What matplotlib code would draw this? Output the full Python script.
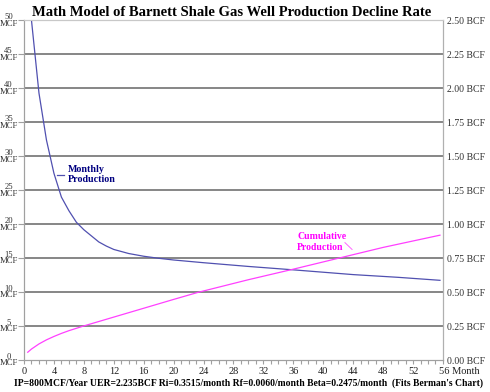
#Barnett shale decline model chart, monthly rate and cumulative production

import matplotlib
matplotlib.use('Agg')

import matplotlib.pyplot as plt
from matplotlib.ticker import MultipleLocator

# monthly production (MCF scale on left axis)
monthlyMonths = [1, 2, 3, 4, 5, 6, 7, 8, 9, 10, 11, 12, 13, 14, 16, 18, 20, 24, 30, 36, 44, 50, 55.6]
monthlyValues = [50.0, 39.3, 32.4, 27.5, 24.0, 22.0, 20.3, 19.2, 18.3, 17.4, 16.8, 16.3, 16.0, 15.7,
                 15.3, 15.0, 14.75, 14.35, 13.8, 13.3, 12.6, 12.2, 11.76]

# cumulative production (BCF scale on right axis)
cumMonths = [0.5, 1, 2, 3, 4, 5, 6, 8, 10, 12, 14, 16, 20, 23.3, 30, 36, 42, 48, 55.6]
cumValues = [0.059, 0.0825, 0.12, 0.15, 0.175, 0.1975, 0.2175, 0.2525, 0.285, 0.3175, 0.35,
             0.3825, 0.4475, 0.50, 0.5925, 0.67, 0.75, 0.83, 0.92]

leftTicks = [0, 5, 10, 15, 20, 25, 30, 35, 40, 45, 50]
rightTicks = [0.0, 0.25, 0.5, 0.75, 1.0, 1.25, 1.5, 1.75, 2.0, 2.25, 2.5]
monthTicks = list(range(0, 57, 4))

titleText = 'Math Model of Barnett Shale Gas Well Production Decline Rate'
footText = "IP=800MCF/Year UER=2.235BCF Ri=0.3515/month Rf=0.0060/month Beta=0.2475/month  (Fits Berman's Chart)"

serif = 'Liberation Serif'
gridColor = '#666666'
spineColor = '#a0a0a0'

fig = plt.figure(figsize=(4.9, 3.92), dpi=100)
ax = fig.add_axes([0.049, 0.081, 0.855, 0.867])
ax.set_xlim(0, 56)
ax.set_ylim(0, 50)

# horizontal grid lines
for v in leftTicks[1:-1]:
    ax.axhline(v, color=gridColor, lw=1.1, zorder=1)

# monthly production curve
ax.plot(monthlyMonths, monthlyValues, color='#5050b0', lw=0.9, zorder=3)

# cumulative on twin axis
ax2 = ax.twinx()
ax2.set_ylim(0, 2.5)
ax2.plot(cumMonths, cumValues, color='#ff40ff', lw=0.9, zorder=3)

# spines
for a in (ax, ax2):
    a.spines['top'].set_color('#c8c8c8')
    a.spines['right'].set_color('#b0b0b0')
    a.spines['left'].set_color(spineColor)
    a.spines['bottom'].set_color(spineColor)

# left axis labels
ax.set_yticks(leftTicks)
ax.set_yticklabels([str(v) + '\nMCF' for v in leftTicks])
for t in ax.get_yticklabels():
    t.set_linespacing(0.7)
    t.set_multialignment('center')
ax.tick_params(axis='y', length=4, width=0.8, color=spineColor, pad=0.5,
               labelsize=6.2, labelfontfamily=serif, labelcolor='#303030')

# right axis labels
ax2.set_yticks(rightTicks)
ax2.set_yticklabels(['%.2f BCF' % v for v in rightTicks])
ax2.tick_params(axis='y', length=0, pad=3, labelsize=7, labelfontfamily=serif, labelcolor='#303030')

# month axis
ax.set_xticks(monthTicks)
ax.set_xticklabels([str(m) for m in monthTicks[:-1]] + [''])
ax.xaxis.set_minor_locator(MultipleLocator(1))
ax.tick_params(axis='x', which='both', length=3, width=0.8, color=spineColor, pad=2,
               labelsize=7.5, labelfontfamily=serif, labelcolor='#202020')
ax.annotate('56 Month', xy=(56, 0), xycoords=('data', 'axes fraction'), xytext=(-3, -5),
            textcoords='offset points', ha='left', va='top', fontsize=7.5, family=serif,
            color='#202020', annotation_clip=False)

# line labels
ax.plot([4.4, 5.3], [27.3, 27.3], color='#5050b0', lw=0.9)
ax.text(5.9, 27.3, 'Monthly\nProduction', ha='left', va='center', fontsize=7.2,
        family=serif, weight='bold', color='#000080', linespacing=1.15)
ax.text(36.5, 17.4, 'Cumulative\nProduction', ha='left', va='center', fontsize=7.0,
        family=serif, weight='bold', color='#ff00ff', linespacing=1.15)
ax.plot([42.9, 43.85], [17.3, 16.3], color='#ff66ff', lw=0.7)

fig.text(0.473, 0.968, titleText, ha='center', va='center', fontsize=10.5,
         family=serif, weight='bold')
fig.text(0.508, 0.022, footText, ha='center', va='center', fontsize=6.9,
         family=serif, weight='bold')

plt.savefig('out.png', dpi=100)
